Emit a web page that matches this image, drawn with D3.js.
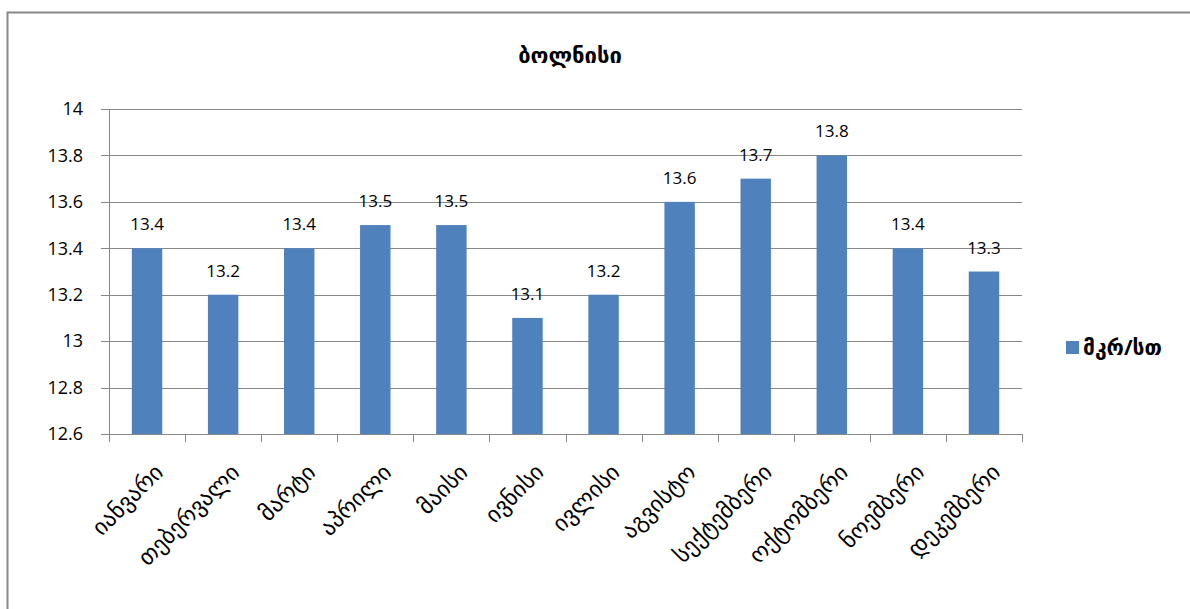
<!DOCTYPE html>
<html>
<head>
<meta charset="utf-8">
<script src="https://cdn.jsdelivr.net/npm/d3@7"></script>
<style>
  body { margin: 0; background: #fff; }
  svg text { font-family: "Open Sans", "DejaVu Sans", sans-serif; fill: #000; }
</style>
</head>
<body>
<div id="chart"></div>
<script>
// Chart data
const months = ["იანვარი", "თებერვალი", "მარტი", "აპრილი", "მაისი", "ივნისი",
  "ივლისი", "აგვისტო", "სექტემბერი", "ოქტომბერი", "ნოემბერი", "დეკემბერი"];
const values = [13.4, 13.2, 13.4, 13.5, 13.5, 13.1, 13.2, 13.6, 13.7, 13.8, 13.4, 13.3];
const yTicks = [12.6, 12.8, 13, 13.2, 13.4, 13.6, 13.8, 14];
const seriesName = "მკრ/სთ";
const chartTitle = "ბოლნისი";

const W = 1190, H = 609;
const plotLeft = 109, plotRight = 1022, plotTop = 109, plotBottom = 434;

const svg = d3.select("#chart").append("svg")
  .attr("width", W).attr("height", H);

// outer frame
svg.append("rect")
  .attr("x", 7.5).attr("y", 12.5)
  .attr("width", W).attr("height", H)
  .attr("fill", "none").attr("stroke", "#888").attr("stroke-width", 2);

const x = d3.scaleBand().domain(months).range([plotLeft, plotRight]).paddingInner(0.6).paddingOuter(0.3);
const y = d3.scaleLinear().domain([12.6, 14]).range([plotBottom, plotTop]);

// gridlines
svg.append("g").selectAll("line").data(yTicks).join("line")
  .attr("x1", plotLeft - 8).attr("x2", plotRight)
  .attr("y1", d => Math.round(y(d)) + 0.5).attr("y2", d => Math.round(y(d)) + 0.5)
  .attr("stroke", "#888").attr("stroke-width", 1);

// y tick labels
svg.append("g").selectAll("text").data(yTicks).join("text")
  .attr("x", plotLeft - 26).attr("y", d => y(d))
  .attr("dy", "0.35em").attr("text-anchor", "end")
  .style("font-size", "18px")
  .text(d => d);

// bars
svg.append("g").selectAll("rect").data(values).join("rect")
  .attr("x", (d, i) => x(months[i]))
  .attr("y", d => y(d))
  .attr("width", x.bandwidth())
  .attr("height", d => plotBottom - y(d))
  .attr("fill", "#4F81BD");

// value labels
svg.append("g").selectAll("text").data(values).join("text")
  .attr("x", (d, i) => x(months[i]) + x.bandwidth() / 2)
  .attr("y", d => y(d) - 18)
  .attr("text-anchor", "middle")
  .style("font-size", "17px")
  .text(d => d);

// axes lines
svg.append("line")
  .attr("x1", plotLeft + 0.5).attr("x2", plotLeft + 0.5)
  .attr("y1", plotTop).attr("y2", plotBottom)
  .attr("stroke", "#888");
svg.append("line")
  .attr("x1", plotLeft).attr("x2", plotRight)
  .attr("y1", plotBottom + 0.5).attr("y2", plotBottom + 0.5)
  .attr("stroke", "#888");

// x ticks at band boundaries
const step = (plotRight - plotLeft) / months.length;
const xTicks = d3.range(months.length + 1).map(i => plotLeft + i * step);
svg.append("g").selectAll("line").data(xTicks).join("line")
  .attr("x1", d => Math.round(d) + 0.5).attr("x2", d => Math.round(d) + 0.5)
  .attr("y1", plotBottom).attr("y2", plotBottom + 8)
  .attr("stroke", "#888");

// x labels, rotated
svg.append("g").selectAll("text").data(months).join("text")
  .attr("transform", d => `translate(${x(d) + x.bandwidth() / 2 + 12},${plotBottom + 34}) rotate(-45)`)
  .attr("text-anchor", "end")
  .attr("dy", "0.35em")
  .style("font-size", "23px")
  .text(d => d);

// title
svg.append("text")
  .attr("x", 570).attr("y", 63)
  .attr("text-anchor", "middle")
  .style("font-size", "22px").style("font-weight", "bold")
  .text(chartTitle);

// legend
svg.append("rect")
  .attr("x", 1066).attr("y", 341).attr("width", 13).attr("height", 13)
  .attr("fill", "#4F81BD");
svg.append("text")
  .attr("x", 1083).attr("y", 348).attr("dy", "0.35em")
  .style("font-size", "21px").style("font-weight", "bold")
  .text(seriesName);
</script>
</body>
</html>
